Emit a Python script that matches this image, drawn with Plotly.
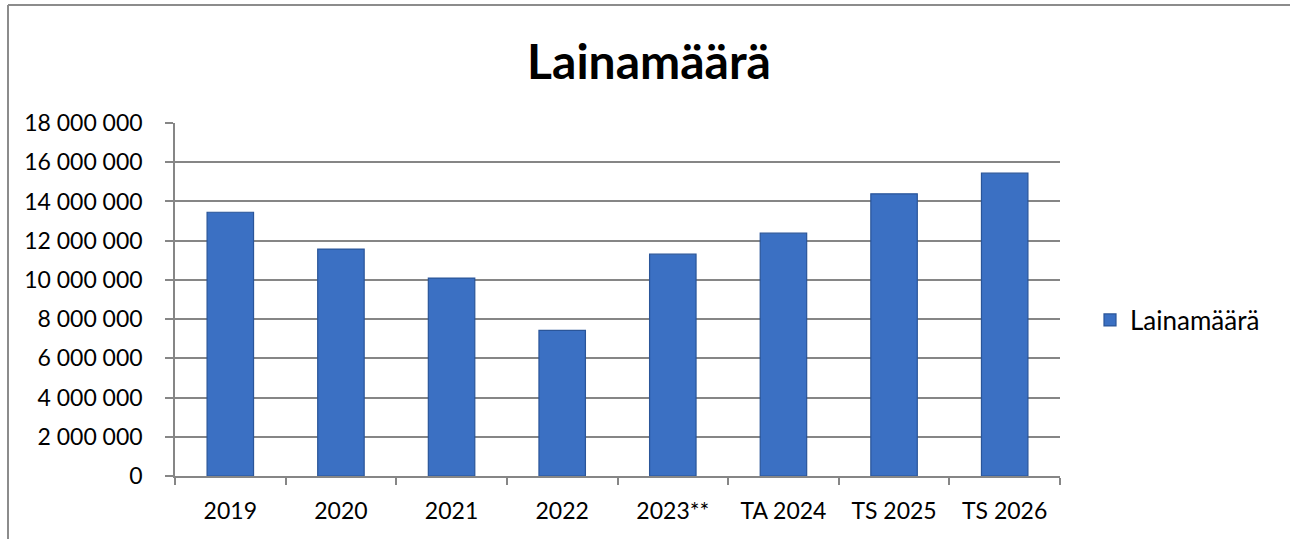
import plotly.graph_objects as go

categories = ["2019", "2020", "2021", "2022", "2023**", "TA 2024", "TS 2025", "TS 2026"]
values = [13450000, 11570000, 10090000, 7430000, 11310000, 12380000, 14390000, 15440000]
series_name = "Lainamäärä"
y_ticks = [0, 2000000, 4000000, 6000000, 8000000, 10000000, 12000000, 14000000, 16000000, 18000000]

W, H = 1290, 539
L, R, T, B = 175, 230, 123, 63
pw, ph = W - L - R, H - T - B

def px_x(p):
    return (p - L) / pw

def px_y(p):
    return (H - B - p) / ph

FONT = "Lato"

fig = go.Figure()
fig.add_trace(go.Bar(
    x=categories, y=values, name=series_name,
    marker=dict(color="#3b70c3", line=dict(color="#2a5599", width=1.2)),
    width=0.42,
))

fig.update_layout(
    width=W, height=H,
    margin=dict(l=L, r=R, t=T, b=B, autoexpand=False),
    paper_bgcolor="white", plot_bgcolor="white",
    separators=", ",
    font=dict(family=FONT, size=23, color="black"),
    title=dict(text="<b>Lainamäärä</b>", x=px_x(649), xref="paper", xanchor="center",
               y=1 - 62 / H, yanchor="middle", font=dict(family=FONT, size=48, color="black")),
    showlegend=True,
    legend=dict(x=px_x(1090), xanchor="left", y=px_y(320), yanchor="middle",
                font=dict(family=FONT, size=26, color="black"), bgcolor="rgba(0,0,0,0)"),
)

fig.update_xaxes(
    type="category", showline=True, linecolor="#868686", linewidth=1.5,
    ticks="outside", ticklen=7, tickcolor="#868686", tickwidth=1.5,
    tickson="boundaries", showgrid=False, ticklabelstandoff=14,
)
fig.update_yaxes(
    range=[0, 18000000], tickvals=y_ticks, tickformat=",d",
    showline=True, linecolor="#868686", linewidth=1.5,
    ticks="outside", ticklen=8, tickcolor="#868686", tickwidth=1.5,
    showgrid=True, gridcolor="#868686", gridwidth=1.5, zeroline=False,
    ticklabelstandoff=18,
)

border = dict(color="#8c8c8c", width=2)
fig.add_shape(type="line", xref="paper", yref="paper",
              x0=px_x(8), x1=px_x(1300), y0=px_y(5), y1=px_y(5), line=border, layer="below")
fig.add_shape(type="line", xref="paper", yref="paper",
              x0=px_x(8), x1=px_x(8), y0=px_y(5), y1=px_y(560), line=border, layer="below")

fig.write_html("out.html", config={"displayModeBar": False},
               post_script="document.body.style.margin='0';")
